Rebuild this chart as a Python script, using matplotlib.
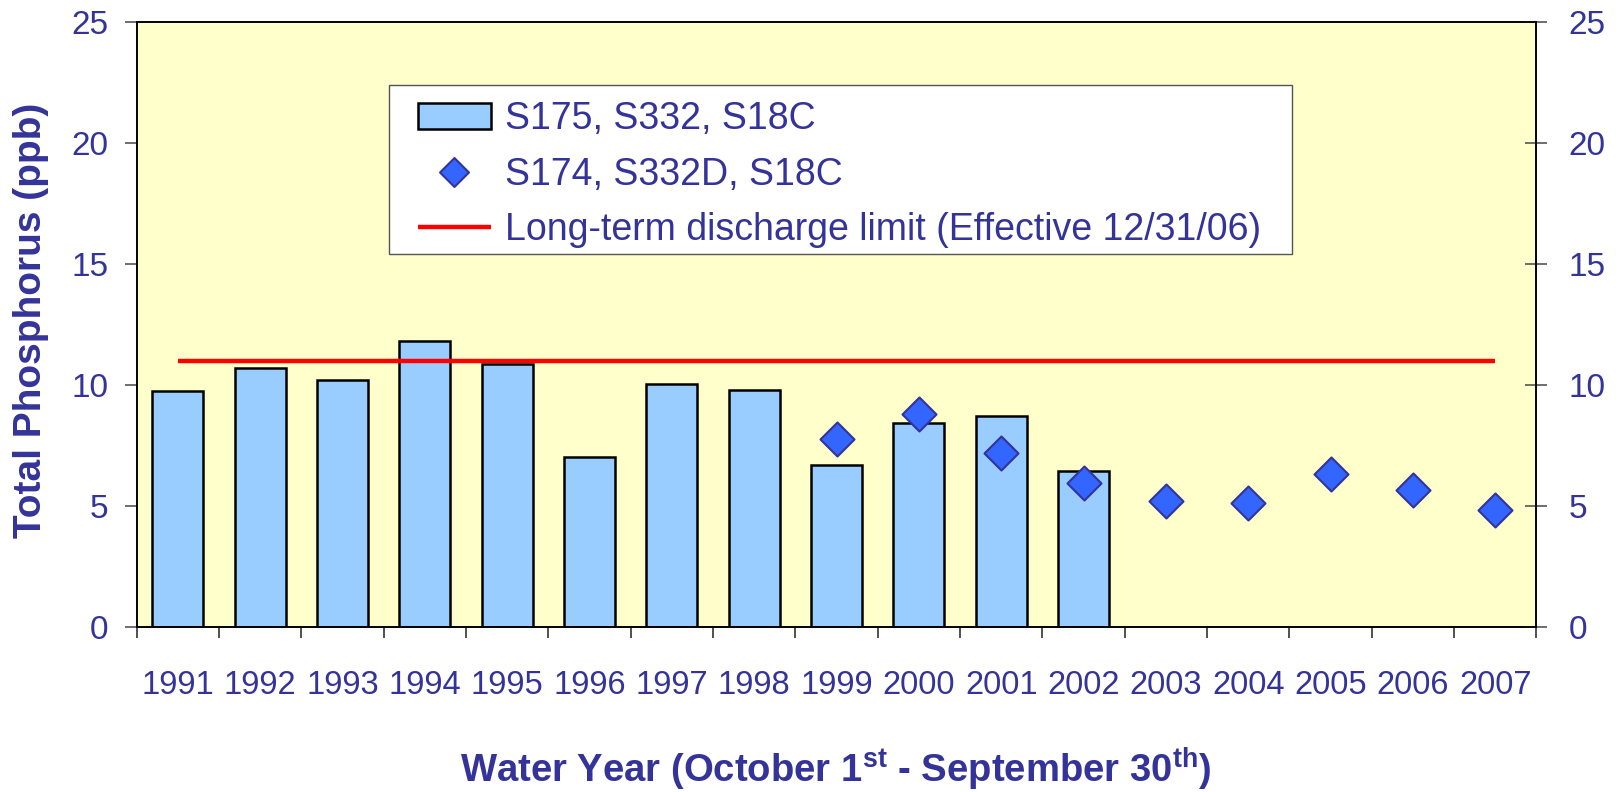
import matplotlib
matplotlib.use("Agg")
import matplotlib.pyplot as plt
import numpy as np
from matplotlib.path import Path
from matplotlib.patches import Rectangle

# ---------------- data ----------------
years = ["1991", "1992", "1993", "1994", "1995", "1996", "1997", "1998", "1999",
         "2000", "2001", "2002", "2003", "2004", "2005", "2006", "2007"]
bar_years = ["1991", "1992", "1993", "1994", "1995", "1996", "1997", "1998",
             "1999", "2000", "2001", "2002"]
bar_values = [9.75, 10.69, 10.22, 11.83, 10.86, 7.02, 10.04, 9.81, 6.69, 8.41, 8.71, 6.44]
diamond_years = ["1999", "2000", "2001", "2002", "2003", "2004", "2005", "2006", "2007"]
diamond_values = [7.75, 8.80, 7.18, 5.96, 5.18, 5.10, 6.33, 5.67, 4.82]
limit_value = 11.0
y_ticks = [0, 5, 10, 15, 20, 25]

bar_label = "S175, S332, S18C"
diamond_label = "S174, S332D, S18C"
limit_label = "Long-term discharge limit (Effective 12/31/06)"

# ---------------- style ----------------
TXT = "#333399"
BG = "#FFFFCC"
BAR = "#99CCFF"
DIA = "#3366FF"
RED = "#FF0000"

plt.rcParams["font.family"] = ["Liberation Sans", "DejaVu Sans"]
plt.rcParams["mathtext.fontset"] = "custom"
plt.rcParams["mathtext.rm"] = "Liberation Sans"
plt.rcParams["mathtext.bf"] = "Liberation Sans:bold"

fig = plt.figure(figsize=(16.21, 7.92), dpi=100)
ax = fig.add_axes([0.0843, 0.2087, 0.8635, 0.7631])
ax.set_facecolor(BG)

xpos = {y: i for i, y in enumerate(years)}
bx = [xpos[y] for y in bar_years]
dx = [xpos[y] for y in diamond_years]

ax.bar(bx, bar_values, width=0.62, color=BAR, edgecolor="black", linewidth=1.8,
       label=bar_label, zorder=2)
ax.hlines(limit_value, xpos[years[0]], xpos[years[-1]], color=RED, linewidth=3.2,
          label=limit_label, zorder=3)
diamond = Path([(0, 1), (1, 0), (0, -1), (-1, 0), (0, 1)],
               [Path.MOVETO, Path.LINETO, Path.LINETO, Path.LINETO, Path.CLOSEPOLY])
ax.plot(dx, diamond_values, linestyle="none", marker=diamond, markersize=24.5,
        markerfacecolor=DIA, markeredgecolor=TXT, markeredgewidth=1.5,
        label=diamond_label, zorder=4)

ax.set_xlim(-0.5, len(years) - 0.5)
ax.set_ylim(0, 25)

# x ticks: labels at centres, marks at boundaries
ax.set_xticks(range(len(years)))
ax.set_xticklabels(years, fontsize=23.5, color=TXT)
ax.set_xticks(np.arange(-0.5, len(years), 1.0), minor=True)
ax.tick_params(axis="x", which="major", length=0, pad=31)
ax.tick_params(axis="x", which="minor", length=8, width=1.2, color="#333333",
               direction="out")

ax.set_yticks(y_ticks)
ax.tick_params(axis="y", which="major", length=8.5, width=1.2, color="#555555",
               labelsize=24, labelcolor=TXT, pad=12, direction="out")

ax2 = ax.twinx()
ax2.set_ylim(0, 25)
ax2.set_yticks(y_ticks)
ax2.tick_params(axis="y", which="major", length=16, width=1.2, color="#555555",
                labelsize=24, labelcolor=TXT, pad=15, direction="inout")

for a in (ax, ax2):
    for s in a.spines.values():
        s.set_color("black")
        s.set_linewidth(1.2)

# legend frame drawn as a box, legend entries placed inside
ax.add_patch(Rectangle((0.1803, 0.6166), 0.6452, 0.2797, transform=ax.transAxes,
                       facecolor="white", edgecolor="#555555", linewidth=1.0,
                       zorder=5))
handles, labels = ax.get_legend_handles_labels()
order = [labels.index(bar_label), labels.index(diamond_label), labels.index(limit_label)]
leg = ax.legend([handles[i] for i in order], [labels[i] for i in order],
                loc="upper left", bbox_to_anchor=(0.2008, 0.8698),
                borderaxespad=0, borderpad=0, fontsize=27, frameon=False,
                handlelength=1.95, handleheight=0.67, handletextpad=0.39,
                labelspacing=0.52, markerscale=0.85)
leg.set_zorder(6)
for t in leg.get_texts():
    t.set_color(TXT)

# axis labels
fig.text(31 / 1621, 1 - 320.5 / 792, "Total Phosphorus (ppb)", rotation=90,
         ha="center", va="center", fontsize=28, fontweight="bold", color=TXT)
fig.text(0.5157, 9 / 792,
         r"Water Year (October 1$^{\mathbf{st}}$ - September 30$^{\mathbf{th}}$)",
         ha="center", va="baseline", fontsize=27.5, fontweight="bold", color=TXT)

fig.savefig("out.png", dpi=100)
